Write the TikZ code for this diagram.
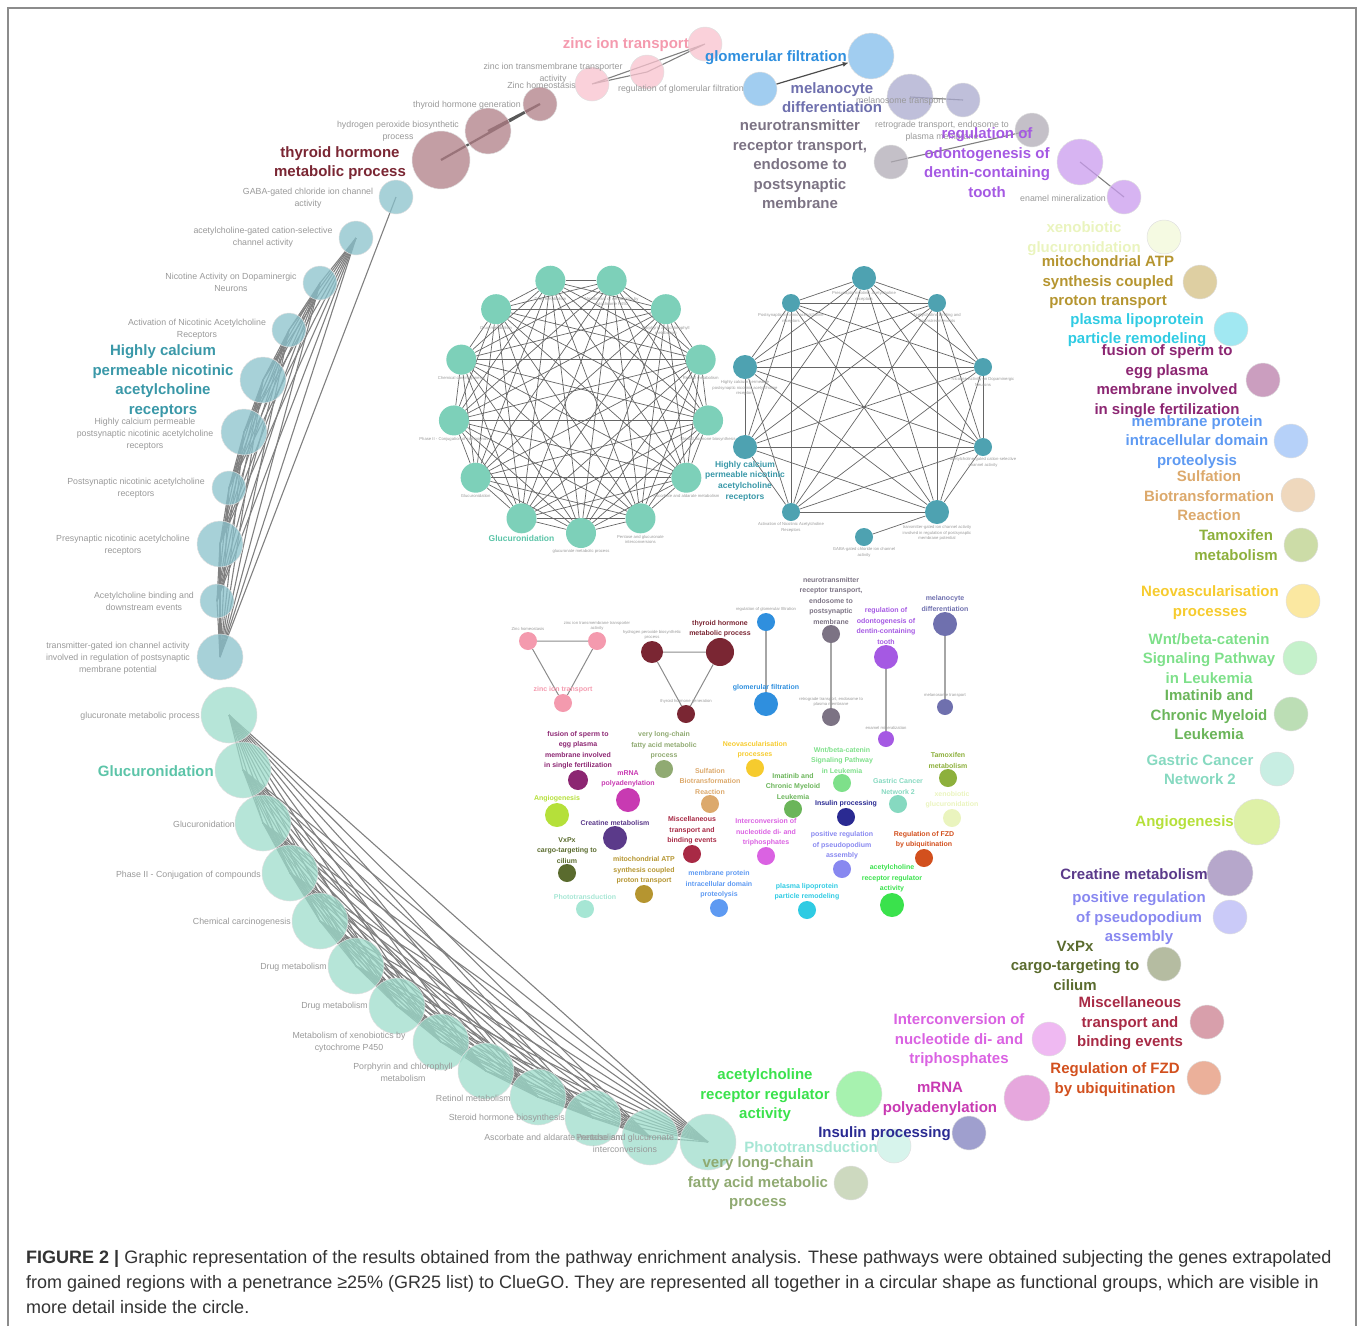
\documentclass[tikz,border=0pt]{standalone}
\usepackage{fontspec}
\setmainfont{Liberation Sans}
\usetikzlibrary{positioning, arrows.meta}
\pgfdeclarelayer{background}
\pgfsetlayers{background,main}

% group colours (label colour; ring fill is mixed with white)
\definecolor{czinc}{HTML}{F49AAE}
\definecolor{cthyr}{HTML}{7A2633}
\definecolor{cglom}{HTML}{2F8FDE}
\definecolor{cmela}{HTML}{6F70AE}
\definecolor{cneur}{HTML}{7C7384}
\definecolor{codon}{HTML}{A559E3}
\definecolor{cachr}{HTML}{3A98A8}
\definecolor{cgluc}{HTML}{5CC4A8}
\definecolor{cxeno}{HTML}{EAF4BE}
\definecolor{cmito}{HTML}{B59530}
\definecolor{cplas}{HTML}{2FCBE3}
\definecolor{cfusi}{HTML}{8C2672}
\definecolor{cmemb}{HTML}{5E9AF2}
\definecolor{csulf}{HTML}{DCA96C}
\definecolor{ctamo}{HTML}{8DB03C}
\definecolor{cneov}{HTML}{F6CB2E}
\definecolor{cwnt}{HTML}{7EE08A}
\definecolor{cimat}{HTML}{6BB55A}
\definecolor{cgast}{HTML}{86D9C0}
\definecolor{cangi}{HTML}{B5E03A}
\definecolor{ccrea}{HTML}{5B3A8A}
\definecolor{cpseu}{HTML}{8888F0}
\definecolor{cvxpx}{HTML}{5A6B2E}
\definecolor{cmisc}{HTML}{A82A45}
\definecolor{cinte}{HTML}{DA62E2}
\definecolor{cfzd}{HTML}{D2501E}
\definecolor{cmrna}{HTML}{C83AB2}
\definecolor{cacrr}{HTML}{3AE24C}
\definecolor{cinsu}{HTML}{2A2A92}
\definecolor{cphot}{HTML}{A6E6D4}
\definecolor{cvlcf}{HTML}{90AA72}

\tikzset{
  ringnode/.style={circle, draw=black!12, line width=.5pt, fill opacity=.75, inner sep=0pt},
  netnode/.style={circle, inner sep=0pt},
  biglbl/.style={font=\fontsize{15}{19.5}\selectfont\bfseries, align=center, inner sep=0pt},
  graylbl/.style={font=\fontsize{8.8}{12}\selectfont, text=black!40, align=center, inner sep=0pt},
  netlbl/.style={font=\fontsize{7}{10.5}\selectfont\bfseries, align=center, inner sep=.5pt},
  tinylbl/.style={font=\fontsize{4.2}{5.2}\selectfont, text=black!40, align=center, inner sep=.5pt},
  ringedge/.style={draw=black!50, line width=1.1pt},
  netedge/.style={draw=black!60, line width=.7pt},
}

\begin{document}
\begin{tikzpicture}[x=1pt, y=-1pt]
\useasboundingbox (0,0) rectangle (1360,1326);
\draw[black!45, line width=1.2pt] (8,1326) -- (8,8) -- (1356,8) -- (1356,1326);

% ---------- outer ring, top groups
\node[ringnode, fill=czinc!60!white, minimum size=34pt] (z1) at (592,84) {};
\node[ringnode, fill=czinc!60!white, minimum size=34pt] (z2) at (647,72) {};
\node[ringnode, fill=czinc!60!white, minimum size=34pt] (z3) at (705,44) {};
\node[ringnode, fill=cthyr!60!white, minimum size=58pt] (t1) at (441,160) {};
\node[ringnode, fill=cthyr!60!white, minimum size=46pt] (t2) at (488,131) {};
\node[ringnode, fill=cthyr!60!white, minimum size=34pt] (t3) at (540,104) {};
\node[ringnode, fill=cglom!60!white, minimum size=34pt] (gl1) at (760,89) {};
\node[ringnode, fill=cglom!60!white, minimum size=46pt] (gl2) at (871,56) {};
\node[ringnode, fill=cmela!60!white, minimum size=46pt] (me1) at (910,97) {};
\node[ringnode, fill=cmela!60!white, minimum size=34pt] (me2) at (963,100) {};
\node[ringnode, fill=cneur!60!white, minimum size=34pt] (nt1) at (891,162) {};
\node[ringnode, fill=cneur!60!white, minimum size=34pt] (nt2) at (1032,130) {};
\node[ringnode, fill=codon!60!white, minimum size=46pt] (od1) at (1080,162) {};
\node[ringnode, fill=codon!60!white, minimum size=34pt] (od2) at (1124,197) {};

% ---------- outer ring, acetylcholine receptors
\foreach \n/\x/\y/\d in {1/396/197/34, 2/356/238/34, 3/320/283/34, 4/289/330/34, 5/263/380/46,
    6/244/432/46, 7/229/488/34, 8/220/544/46, 9/217/601/34, 10/220/657/46}
  \node[ringnode, fill=cachr!60!white, minimum size=\d pt] (a\n) at (\x,\y) {};

% ---------- outer ring, glucuronidation
\foreach \n/\x/\y in {1/229/715, 2/243/770, 3/263/823, 4/290/873, 5/320/921, 6/356/966, 7/397/1006,
    8/441/1042, 9/486/1071, 10/538/1097, 11/593/1118, 12/650/1137, 13/708/1142}
  \node[ringnode, fill=cgluc!60!white, minimum size=56pt] (gu\n) at (\x,\y) {};

% ---------- outer ring, single terms
\foreach \n/\c/\x/\y/\d in {xg/cxeno/1164/237/34, ma/cmito/1200/282/34, pl/cplas/1231/329/34,
    fs/cfusi/1263/380/34, mp/cmemb/1291/441/34, su/csulf/1298/495/34, ta/ctamo/1301/545/34,
    ne/cneov/1303/601/34, wn/cwnt/1300/658/34, im/cimat/1291/714/34, gc/cgast/1277/769/34,
    an/cangi/1257/822/46, cr/ccrea/1230/873/46, pr/cpseu/1230/917/34, vx/cvxpx/1164/964/34,
    mi/cmisc/1207/1022/34, ic/cinte/1049/1039/34, fz/cfzd/1204/1078/34, mr/cmrna/1027/1098/46,
    ac/cacrr/859/1094/46, ip/cinsu/969/1133/34, ph/cphot/894/1146/34, vl/cvlcf/851/1183/34}
  \node[ringnode, fill=\c!60!white, minimum size=\d pt] (r\n) at (\x,\y) {};

% ---------- inner network, glucuronidation
\foreach \k in {0,...,12}
  \node[netnode, fill=cgluc!80!white, minimum size=30pt] (ig\k) at ({581+128*cos(90+\k*360/13)},{405+128*sin(90+\k*360/13)}) {};

% ---------- inner network, acetylcholine receptors
\foreach \n/\x/\y/\d in {1/864/278/24, 2/791/303/18, 3/937/303/18, 4/745/367/24, 5/983/367/18,
    6/745/447/24, 7/983/447/18, 8/791/512/18, 9/937/512/24, 10/864/537/18}
  \node[netnode, fill=cachr!90!white, minimum size=\d pt] (ia\n) at (\x,\y) {};

% ---------- inner network, small groups
\foreach \n/\c/\x/\y/\d in {z1/czinc/528/641/18, z2/czinc/597/641/18, z3/czinc/563/703/18,
    t1/cthyr/652/652/22, t2/cthyr/720/652/28, t3/cthyr/686/714/18,
    g1/cglom/766/622/18, g2/cglom/766/704/24, n1/cneur/831/634/18, n2/cneur/831/717/18,
    o1/codon/886/657/24, o2/codon/886/739/16, m1/cmela/945/624/24, m2/cmela/945/707/16,
    fs/cfusi/578/780/20, vl/cvlcf/664/769/18, ne/cneov/755/768/18, su/csulf/710/804/18,
    mr/cmrna/628/800/24, an/cangi/557/815/24, cr/ccrea/615/838/24, im/cimat/793/809/18,
    wn/cwnt/842/783/18, gc/cgast/898/804/18, ta/ctamo/948/778/18, xg/cxeno/952/818/18,
    ip/cinsu/846/817/18, mi/cmisc/692/854/18, ic/cinte/766/856/18, pr/cpseu/842/869/18,
    fz/cfzd/924/858/18, vx/cvxpx/567/873/18, ma/cmito/644/894/18, mp/cmemb/719/908/18,
    pl/cplas/807/910/18, ac/cacrr/892/905/24, ph/cphot/585/909/18}
  \node[netnode, fill=\c, minimum size=\d pt] (s\n) at (\x,\y) {};

% ---------- connectors
\begin{pgfonlayer}{background}
  \draw[ringedge] (z1.center) -- (z3.center) (z2.center) -- (z3.center) (z1.center) -- (z2.center);
  \draw[ringedge, draw=black!65, line width=2.2pt] (t1.center) -- (t3.center) (t2.center) -- (t3.center);
  \draw[ringedge] (me1.center) -- (me2.center);
  \draw[ringedge] (nt1.center) -- (nt2.center);
  \draw[ringedge] (od1.center) -- (od2.center);
  \foreach \i in {2,...,9}{
    \pgfmathtruncatemacro{\j}{\i+1}
    \foreach \k in {\j,...,10}
      \draw[ringedge] (a\i.center) -- (a\k.center);
  }
  \draw[ringedge] (a1.center) -- (a10.center);
  \foreach \i in {1,...,12}{
    \pgfmathtruncatemacro{\j}{\i+1}
    \foreach \k in {\j,...,13}
      \draw[ringedge] (gu\i.center) -- (gu\k.center);
  }
  % inner networks
  \foreach \i in {0,...,11}{
    \pgfmathtruncatemacro{\j}{\i+1}
    \foreach \k in {\j,...,12}
      \draw[netedge] (ig\i) -- (ig\k);
  }
  \foreach \i in {1,...,8}{
    \pgfmathtruncatemacro{\j}{\i+1}
    \foreach \k in {\j,...,9}
      \draw[netedge] (ia\i) -- (ia\k);
  }
  \draw[netedge] (ia10) -- (ia9);
  \draw[netedge, draw=black!45, line width=1pt] (sz1) -- (sz2) -- (sz3) -- (sz1);
  \draw[netedge, draw=black!45, line width=1pt] (st1) -- (st2) -- (st3) -- (st1);
  \draw[netedge, draw=black!35, line width=1.3pt] (sg1) -- (sg2) (sn1) -- (sn2) (so1) -- (so2) (sm1) -- (sm2);
\end{pgfonlayer}
\draw[-{Latex[length=6pt,width=5pt]}, black!70, line width=1.2pt] (gl1) -- (gl2);

% ---------- labels, top groups
\node[graylbl, anchor=east] (lz1) at (576,85) {Zinc homeostasis};
\node[graylbl] (lz2) at (553,73) {zinc ion transmembrane transporter\\activity};
\node[biglbl, text=czinc, anchor=east] (lz3) at (689,45) {zinc ion transport};
\node[biglbl, text=cthyr] (lt1) at (340,163) {thyroid hormone\\metabolic process};
\node[graylbl] (lt2) at (398,131.5) {hydrogen peroxide biosynthetic\\process};
\node[graylbl, anchor=east] (lt3) at (521,105) {thyroid hormone generation};
\node[graylbl, anchor=east] (lgl1) at (744,89) {regulation of glomerular filtration};
\node[biglbl, text=cglom, anchor=east] (lgl2) at (847,58) {glomerular filtration};
\node[graylbl] (lme2) at (900,101) {melanosome transport};
\node[biglbl, text=cmela] (lme1) at (832,97.5) {melanocyte\\differentiation};
\node[graylbl] (lnt2) at (942,131.5) {retrograde transport, endosome to\\plasma membrane};
\node[biglbl, text=cneur] (lnt1) at (800,164.5) {neurotransmitter\\receptor transport,\\endosome to\\postsynaptic\\membrane};
\node[biglbl, text=codon] (lod1) at (987,162.5) {regulation of\\odontogenesis of\\dentin-containing\\tooth};
\node[graylbl, anchor=east] (lod2) at (1106,198) {enamel mineralization};

% ---------- labels, acetylcholine receptors
\node[graylbl] (la1) at (308,198.5) {GABA-gated chloride ion channel\\activity};
\node[graylbl] (la2) at (263,237.5) {acetylcholine-gated cation-selective\\channel activity};
\node[graylbl] (la3) at (231,282.5) {Nicotine Activity on Dopaminergic\\Neurons};
\node[graylbl] (la4) at (197,329.5) {Activation of Nicotinic Acetylcholine\\Receptors};
\node[biglbl, text=cachr] (la5) at (163,381) {Highly calcium\\permeable nicotinic\\acetylcholine\\receptors};
\node[graylbl] (la6) at (145,434) {Highly calcium permeable\\postsynaptic nicotinic acetylcholine\\receptors};
\node[graylbl] (la7) at (136,488.5) {Postsynaptic nicotinic acetylcholine\\receptors};
\node[graylbl] (la8) at (123,545) {Presynaptic nicotinic acetylcholine\\receptors};
\node[graylbl] (la9) at (144,601.5) {Acetylcholine binding and\\downstream events};
\node[graylbl] (la10) at (118,658) {transmitter-gated ion channel activity\\involved in regulation of postsynaptic\\membrane potential};

% ---------- labels, glucuronidation
\node[graylbl, anchor=east] (lgu1) at (200,716) {glucuronate metabolic process};
\node[biglbl, text=cgluc, anchor=east] (lgu2) at (214,771) {Glucuronidation};
\node[graylbl, anchor=east] (lgu3) at (235,824) {Glucuronidation};
\node[graylbl, anchor=east] (lgu4) at (261,875) {Phase II - Conjugation of compounds};
\node[graylbl, anchor=east] (lgu5) at (291,922) {Chemical carcinogenesis};
\node[graylbl, anchor=east] (lgu6) at (327,967) {Drug metabolism};
\node[graylbl, anchor=east] (lgu7) at (368,1006) {Drug metabolism};
\node[graylbl] (lgu8) at (349,1042.5) {Metabolism of xenobiotics by\\cytochrome P450};
\node[graylbl] (lgu9) at (403,1072) {Porphyrin and chlorophyll\\metabolism};
\node[graylbl, anchor=east] (lgu10) at (511,1098) {Retinol metabolism};
\node[graylbl, anchor=east] (lgu11) at (565,1118) {Steroid hormone biosynthesis};
\node[graylbl, anchor=east] (lgu12) at (623,1137) {Ascorbate and aldarate metabolism};
\node[graylbl] (lgu13) at (625,1143) {Pentose and glucuronate\\interconversions};

% ---------- labels, single terms
\node[biglbl, text=cxeno] (lxg) at (1084,238.5) {xenobiotic\\glucuronidation};
\node[biglbl, text=cmito] (lma) at (1108,282.5) {mitochondrial ATP\\synthesis coupled\\proton transport};
\node[biglbl, text=cplas] (lpl) at (1137,330) {plasma lipoprotein\\particle remodeling};
\node[biglbl, text=cfusi] (lfs) at (1167,381) {fusion of sperm to\\egg plasma\\membrane involved\\in single fertilization};
\node[biglbl, text=cmemb] (lmp) at (1197,442) {membrane protein\\intracellular domain\\proteolysis};
\node[biglbl, text=csulf] (lsu) at (1209,496) {Sulfation\\Biotransformation\\Reaction};
\node[biglbl, text=ctamo] (lta) at (1236,545) {Tamoxifen\\metabolism};
\node[biglbl, text=cneov] (lne) at (1210,602.5) {Neovascularisation\\processes};
\node[biglbl, text=cwnt] (lwn) at (1209,658.5) {Wnt/beta-catenin\\Signaling Pathway\\in Leukemia};
\node[biglbl, text=cimat] (lim) at (1209,715) {Imatinib and\\Chronic Myeloid\\Leukemia};
\node[biglbl, text=cgast] (lgc) at (1200,769.5) {Gastric Cancer\\Network 2};
\node[biglbl, text=cangi, anchor=east] (lan) at (1234,823) {Angiogenesis};
\node[biglbl, text=ccrea, anchor=east] (lcr) at (1208,874) {Creatine metabolism};
\node[biglbl, text=cpseu] (lpr) at (1139,918.5) {positive regulation\\of pseudopodium\\assembly};
\node[biglbl, text=cvxpx] (lvx) at (1075,965.5) {VxPx\\cargo-targeting to\\cilium};
\node[biglbl, text=cmisc] (lmi) at (1130,1023.5) {Miscellaneous\\transport and\\binding events};
\node[biglbl, text=cinte] (lic) at (959,1040.5) {Interconversion of\\nucleotide di- and\\triphosphates};
\node[biglbl, text=cfzd] (lfz) at (1115,1079.5) {Regulation of FZD\\by ubiquitination};
\node[biglbl, text=cmrna] (lmr) at (940,1099) {mRNA\\polyadenylation};
\node[biglbl, text=cacrr] (lac) at (765,1095.5) {acetylcholine\\receptor regulator\\activity};
\node[biglbl, text=cinsu, anchor=east] (lip) at (951,1134) {Insulin processing};
\node[biglbl, text=cphot, anchor=east] (lph) at (878,1147) {Phototransduction};
\node[biglbl, text=cvlcf] (lvl) at (758,1183.5) {very long-chain\\fatty acid metabolic\\process};

% ---------- labels, inner glucuronidation network
\node[tinylbl, below=1pt of ig0] (tg0) {glucuronate metabolic process};
\node[netlbl, font=\fontsize{8.5}{10.8}\selectfont\bfseries, text=cgluc, below=1pt of ig1] (tg1) {Glucuronidation};
\node[tinylbl, below=1pt of ig2] (tg2) {Glucuronidation};
\node[tinylbl, below=1pt of ig3] (tg3) {Phase II - Conjugation of compounds};
\node[tinylbl, below=1pt of ig4] (tg4) {Chemical carcinogenesis};
\node[tinylbl, below=1pt of ig5] (tg5) {Drug metabolism};
\node[tinylbl, below=1pt of ig6] (tg6) {Drug metabolism};
\node[tinylbl, below=1pt of ig7] (tg7) {Metabolism of xenobiotics by\\cytochrome P450};
\node[tinylbl, below=1pt of ig8] (tg8) {Porphyrin and chlorophyll\\metabolism};
\node[tinylbl, below=1pt of ig9] (tg9) {Retinol metabolism};
\node[tinylbl, below=1pt of ig10] (tg10) {Steroid hormone biosynthesis};
\node[tinylbl, below=1pt of ig11] (tg11) {Ascorbate and aldarate metabolism};
\node[tinylbl, below=1pt of ig12] (tg12) {Pentose and glucuronate\\interconversions};

% ---------- labels, inner acetylcholine network
\node[tinylbl, below=1pt of ia1] (ta1) {Presynaptic nicotinic acetylcholine\\receptors};
\node[tinylbl, below=1pt of ia2] (ta2) {Postsynaptic nicotinic acetylcholine\\receptors};
\node[tinylbl, below=1pt of ia3] (ta3) {Acetylcholine binding and\\downstream events};
\node[tinylbl, below=1pt of ia4] (ta4) {Highly calcium permeable\\postsynaptic nicotinic acetylcholine\\receptors};
\node[tinylbl, below=1pt of ia5] (ta5) {Nicotine Activity on Dopaminergic\\Neurons};
\node[netlbl, font=\fontsize{8.5}{10.8}\selectfont\bfseries, text=cachr, below=1pt of ia6] (ta6) {Highly calcium\\permeable nicotinic\\acetylcholine\\receptors};
\node[tinylbl, below=1pt of ia7] (ta7) {acetylcholine-gated cation-selective\\channel activity};
\node[tinylbl, below=1pt of ia8] (ta8) {Activation of Nicotinic Acetylcholine\\Receptors};
\node[tinylbl, below=1pt of ia9] (ta9) {transmitter-gated ion channel activity\\involved in regulation of postsynaptic\\membrane potential};
\node[tinylbl, below=1pt of ia10] (ta10) {GABA-gated chloride ion channel\\activity};

% ---------- labels, inner small groups
\node[tinylbl, above=1pt of sz1] (tz1) {Zinc homeostasis};
\node[tinylbl, above=1pt of sz2] (tz2) {zinc ion transmembrane transporter\\activity};
\node[netlbl, text=czinc, above=0pt of sz3] (tz3) {zinc ion transport};
\node[tinylbl, above=1pt of st1] (tt1) {hydrogen peroxide biosynthetic\\process};
\node[netlbl, text=cthyr, above=0pt of st2] (tt2) {thyroid hormone\\metabolic process};
\node[tinylbl, above=1pt of st3] (tt3) {thyroid hormone generation};
\node[tinylbl, above=1pt of sg1] (tgl1) {regulation of glomerular filtration};
\node[netlbl, text=cglom, above=0pt of sg2] (tgl2) {glomerular filtration};
\node[netlbl, text=cneur, above=0pt of sn1] (tn1) {neurotransmitter\\receptor transport,\\endosome to\\postsynaptic\\membrane};
\node[tinylbl, above=1pt of sn2] (tn2) {retrograde transport, endosome to\\plasma membrane};
\node[netlbl, text=codon, above=0pt of so1] (to1) {regulation of\\odontogenesis of\\dentin-containing\\tooth};
\node[tinylbl, above=1pt of so2] (to2) {enamel mineralization};
\node[netlbl, text=cmela, above=0pt of sm1] (tm1) {melanocyte\\differentiation};
\node[tinylbl, above=1pt of sm2] (tm2) {melanosome transport};
\node[netlbl, text=cfusi, above=0pt of sfs] (tfs) {fusion of sperm to\\egg plasma\\membrane involved\\in single fertilization};
\node[netlbl, text=cvlcf, above=0pt of svl] (tvl) {very long-chain\\fatty acid metabolic\\process};
\node[netlbl, text=cneov, above=0pt of sne] (tne) {Neovascularisation\\processes};
\node[netlbl, text=csulf, above=0pt of ssu] (tsu) {Sulfation\\Biotransformation\\Reaction};
\node[netlbl, text=cmrna, above=0pt of smr] (tmr) {mRNA\\polyadenylation};
\node[netlbl, text=cangi, above=0pt of san] (tan) {Angiogenesis};
\node[netlbl, text=ccrea, above=0pt of scr] (tcr) {Creatine metabolism};
\node[netlbl, text=cimat, above=0pt of sim] (tim) {Imatinib and\\Chronic Myeloid\\Leukemia};
\node[netlbl, text=cwnt, above=0pt of swn] (twn) {Wnt/beta-catenin\\Signaling Pathway\\in Leukemia};
\node[netlbl, text=cgast, above=0pt of sgc] (tgc) {Gastric Cancer\\Network 2};
\node[netlbl, text=ctamo, above=0pt of sta] (tta) {Tamoxifen\\metabolism};
\node[netlbl, text=cxeno, above=0pt of sxg] (txg) {xenobiotic\\glucuronidation};
\node[netlbl, text=cinsu, above=0pt of sip] (tip) {Insulin processing};
\node[netlbl, text=cmisc, above=0pt of smi] (tmi) {Miscellaneous\\transport and\\binding events};
\node[netlbl, text=cinte, above=0pt of sic] (tic) {Interconversion of\\nucleotide di- and\\triphosphates};
\node[netlbl, text=cpseu, above=0pt of spr] (tpr) {positive regulation\\of pseudopodium\\assembly};
\node[netlbl, text=cfzd, above=0pt of sfz] (tfz) {Regulation of FZD\\by ubiquitination};
\node[netlbl, text=cvxpx, above=0pt of svx] (tvx) {VxPx\\cargo-targeting to\\cilium};
\node[netlbl, text=cmito, above=0pt of sma] (tma) {mitochondrial ATP\\synthesis coupled\\proton transport};
\node[netlbl, text=cmemb, above=0pt of smp] (tmp) {membrane protein\\intracellular domain\\proteolysis};
\node[netlbl, text=cplas, above=0pt of spl] (tpl) {plasma lipoprotein\\particle remodeling};
\node[netlbl, text=cacrr, above=0pt of sac] (tac) {acetylcholine\\receptor regulator\\activity};
\node[netlbl, text=cphot, above=0pt of sph] (tph) {Phototransduction};

% ---------- caption
\node[anchor=north west, align=left, inner sep=0pt, text=black!80,
      font=\fontsize{18}{25}\selectfont] (caption) at (26,1250)
  {\textbf{FIGURE 2 |} Graphic representation of the results obtained from the pathway enrichment analysis. These pathways were obtained subjecting the genes extrapolated\\
   from gained regions with a penetrance ≥25\% (GR25 list) to ClueGO. They are represented all together in a circular shape as functional groups, which are visible in\\
   more detail inside the circle.};
\end{tikzpicture}
\end{document}
